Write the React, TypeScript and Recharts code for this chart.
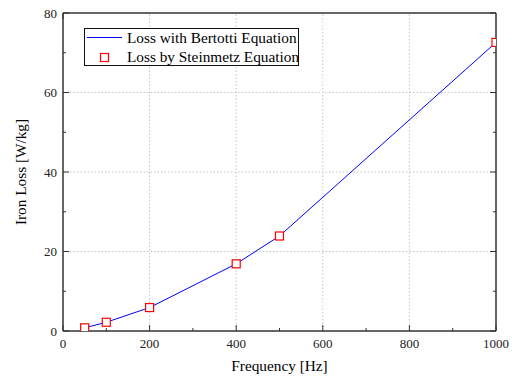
import React from 'react';
import { LineChart, Line, XAxis, YAxis, ReferenceLine, Legend } from 'recharts';

const frequency = [50, 100, 200, 400, 500, 1000];
const bertottiLoss = [0.8, 2.2, 5.9, 16.9, 23.9, 72.6];
const steinmetzLoss = [0.8, 2.2, 5.9, 16.9, 23.9, 72.6];
const xTicks = [0, 100, 200, 300, 400, 500, 600, 700, 800, 900, 1000];
const yTicks = [0, 10, 20, 30, 40, 50, 60, 70, 80];
const xGrid = [200, 400, 600, 800];
const yGrid = [20, 40, 60];
const xTitle = 'Frequency [Hz]';
const yTitle = 'Iron Loss [W/kg]';
const seriesNames = ['Loss with Bertotti Equation', 'Loss by Steinmetz Equation'];

const data = frequency.map((f, i) => ({ f, bertotti: bertottiLoss[i], steinmetz: steinmetzLoss[i] }));

const FONT = '"Liberation Serif", "Times New Roman", serif';
const AXIS = '#333';
const TICK_COLOR = '#222';

const BottomTick = (props: any) => {
  const { x, y, payload } = props;
  const major = payload.value % 200 === 0;
  return (
    <g>
      <line x1={x} x2={x} y1={y} y2={y - (major ? 6 : 3)} stroke={AXIS} strokeWidth={1} />
      {major && (
        <text x={x} y={y + 17} textAnchor="middle" fontSize={13} fontFamily={FONT} fill={TICK_COLOR}>
          {payload.value}
        </text>
      )}
    </g>
  );
};

const TopTick = (props: any) => {
  const { x, y, payload } = props;
  const major = payload.value % 200 === 0;
  return <line x1={x} x2={x} y1={y} y2={y + (major ? 6 : 3)} stroke={AXIS} strokeWidth={1} />;
};

const LeftTick = (props: any) => {
  const { x, y, payload } = props;
  const major = payload.value % 20 === 0;
  return (
    <g>
      <line x1={x} x2={x + (major ? 6 : 3)} y1={y} y2={y} stroke={AXIS} strokeWidth={1} />
      {major && (
        <text x={x - 6} y={y + 4.5} textAnchor="end" fontSize={13} fontFamily={FONT} fill={TICK_COLOR}>
          {payload.value}
        </text>
      )}
    </g>
  );
};

const RightTick = (props: any) => {
  const { x, y, payload } = props;
  const major = payload.value % 20 === 0;
  return <line x1={x} x2={x - (major ? 6 : 3)} y1={y} y2={y} stroke={AXIS} strokeWidth={1} />;
};

const SquareDot = (props: any) => {
  const { cx, cy, index } = props;
  if (cx == null || cy == null) return <g key={index} />;
  return (
    <rect key={index} x={cx - 4} y={cy - 4} width={8} height={8} fill="#fff" stroke="#ff0000" strokeWidth={1.2} />
  );
};

const LegendBox = () => (
  <div
    style={{
      width: 215,
      height: 38,
      border: '1px solid #111',
      background: '#fff',
      boxSizing: 'border-box',
    }}
  >
    <svg width={213} height={36} style={{ display: 'block', overflow: 'visible' }}>
      <line x1={2} x2={37} y1={8.5} y2={8.5} stroke="#0000ff" strokeWidth={1.2} />
      <text x={42} y={13.5} fontSize={15.3} fontFamily={FONT} fill="#000">
        {seriesNames[0]}
      </text>
      <rect x={15.5} y={24.5} width={8} height={8} fill="#fff" stroke="#ff0000" strokeWidth={1.2} />
      <text x={42} y={32.5} fontSize={15.3} fontFamily={FONT} fill="#000">
        {seriesNames[1]}
      </text>
    </svg>
  </div>
);

const XTitle = (props: any) => {
  const { viewBox } = props;
  return (
    <text
      x={viewBox.x + viewBox.width / 2}
      y={viewBox.y + 40}
      textAnchor="middle"
      fontSize={15.3}
      fontFamily={FONT}
      fill="#000"
    >
      {xTitle}
    </text>
  );
};

const YTitle = (props: any) => {
  const { viewBox } = props;
  const cx = viewBox.x + 20;
  const cy = viewBox.y + viewBox.height / 2;
  return (
    <text
      x={cx}
      y={cy}
      transform={`rotate(-90, ${cx}, ${cy})`}
      textAnchor="middle"
      dominantBaseline="central"
      fontSize={15.3}
      fontFamily={FONT}
      fill="#000"
    >
      {yTitle}
    </text>
  );
};

export default function App() {
  return (
    <div style={{ position: 'absolute', left: 0, top: 0, background: '#fff' }}>
      <LineChart width={512} height={380} data={data} margin={{ top: 0, right: 0, bottom: 0, left: 0 }}>
        <XAxis
          xAxisId="b"
          type="number"
          dataKey="f"
          domain={[0, 1000]}
          ticks={xTicks}
          interval={0}
          allowDataOverflow
          tickSize={0}
          tickMargin={0}
          tickLine={false}
          tick={BottomTick}
          axisLine={{ stroke: AXIS, strokeWidth: 1.5 }}
          height={49}
          label={<XTitle />}
        />
        <XAxis
          xAxisId="t"
          orientation="top"
          type="number"
          domain={[0, 1000]}
          ticks={xTicks}
          interval={0}
          allowDataOverflow
          tickSize={0}
          tickMargin={0}
          tickLine={false}
          tick={TopTick}
          axisLine={{ stroke: AXIS, strokeWidth: 1.5 }}
          height={13}
        />
        <YAxis
          yAxisId="l"
          type="number"
          domain={[0, 80]}
          ticks={yTicks}
          interval={0}
          allowDataOverflow
          tickSize={0}
          tickMargin={0}
          tickLine={false}
          tick={LeftTick}
          axisLine={{ stroke: AXIS, strokeWidth: 1.5 }}
          width={63}
          label={<YTitle />}
        />
        <YAxis
          yAxisId="r"
          orientation="right"
          type="number"
          domain={[0, 80]}
          ticks={yTicks}
          interval={0}
          allowDataOverflow
          tickSize={0}
          tickMargin={0}
          tickLine={false}
          tick={RightTick}
          axisLine={{ stroke: AXIS, strokeWidth: 1.5 }}
          width={16}
        />
        {xGrid.map((v) => (
          <ReferenceLine key={'gx' + v} xAxisId="b" yAxisId="l" x={v} stroke="#c4c4c4" strokeDasharray="1.5 2" />
        ))}
        {yGrid.map((v) => (
          <ReferenceLine key={'gy' + v} xAxisId="b" yAxisId="l" y={v} stroke="#c4c4c4" strokeDasharray="1.5 2" />
        ))}
        <Line
          xAxisId="b"
          yAxisId="l"
          type="linear"
          dataKey="bertotti"
          stroke="#0000ff"
          strokeWidth={1}
          dot={false}
          isAnimationActive={false}
        />
        <Line
          xAxisId="b"
          yAxisId="l"
          type="linear"
          dataKey="steinmetz"
          stroke="none"
          dot={SquareDot}
          activeDot={false}
          isAnimationActive={false}
        />
        <Legend
          layout="vertical"
          align="center"
          verticalAlign="middle"
          content={<LegendBox />}
          wrapperStyle={{ left: 84, top: 28, width: 215, height: 38 }}
        />
      </LineChart>
    </div>
  );
}
